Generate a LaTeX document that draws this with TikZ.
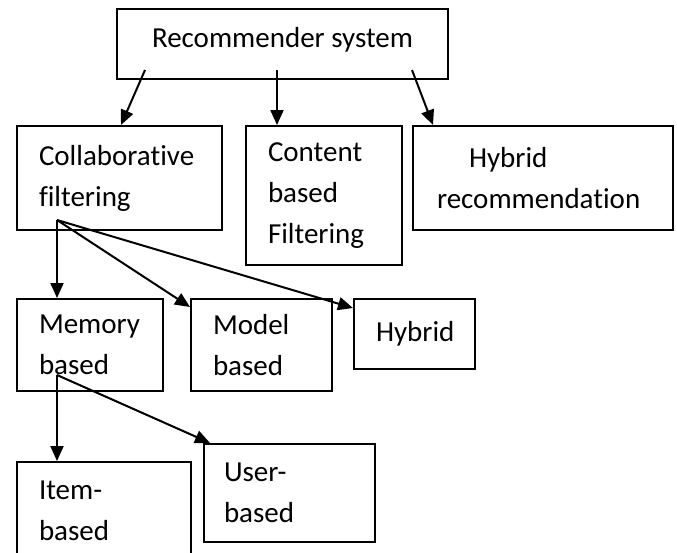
\documentclass[tikz,border=0pt]{standalone}
\usepackage{fontspec}
\setmainfont{Carlito}[Ligatures=NoCommon]
\usetikzlibrary{arrows.meta,calc}

\begin{document}
\begin{tikzpicture}[x=1pt,y=-1pt,line width=2pt,>={Triangle[length=15pt,width=13pt]},
    box/.style={draw,rectangle,anchor=north west,align=left,inner xsep=22pt,inner ysep=0pt,
                font=\fontsize{29}{41}\selectfont}]
    \useasboundingbox (0,0) rectangle (677,552);

    \node[box,align=center,minimum width=331pt,minimum height=70pt,text depth=14pt] (rs) at (116,8) {Recommender system};
    \node[box,text width=161pt,minimum height=104pt]                (cf)   at (16,125)  {Collaborative\\filtering};
    \node[box,text width=112pt,minimum height=139pt]                (cb)   at (245,125) {Content\\based\\Filtering};
    \node[box,inner xsep=24pt,text width=212pt,minimum height=104pt] (hr)  at (412,125) {\hspace*{32pt}Hybrid\\recommendation};
    \node[box,text width=102pt,minimum height=92pt]                 (mem)  at (16,298)  {Memory\\based};
    \node[box,text width=97pt,minimum height=92pt]                  (mod)  at (190,298) {Model\\based};
    \node[box,text width=77pt,minimum height=70pt]                  (hyb)  at (353,298) {Hybrid};
    \node[box,text width=130pt,minimum height=98pt]                 (item) at (16,461)  {Item-\\based};
    \node[box,inner xsep=20pt,text width=131pt,minimum height=98pt] (user) at (203,443) {User-\\based};

    % arrow origins sit inside the boxes
    \coordinate (rs1)  at (145,70);
    \coordinate (rs2)  at (277,70);
    \coordinate (rs3)  at (412,70);
    \coordinate (cf0)  at (57,220);
    \coordinate (mem0) at (57,375);

    \draw[->] (rs1) -- ($(cf.north west)+(105,0)$);
    \draw[->] (rs2) -- (rs2 |- cb.north);
    \draw[->] (rs3) -- ($(hr.north west)+(21,0)$);

    \draw[->] (cf0) -- (cf0 |- mem.north);
    \draw[->] (cf0) -- ($(mod.north west)+(0,9)$);
    \draw[->] (cf0) -- ($(hyb.north west)+(0,10)$);

    \draw[->] (mem0) -- (mem0 |- item.north);
    \draw[->] (mem0) -- ($(user.north west)+(7,0)$);
\end{tikzpicture}
\end{document}
